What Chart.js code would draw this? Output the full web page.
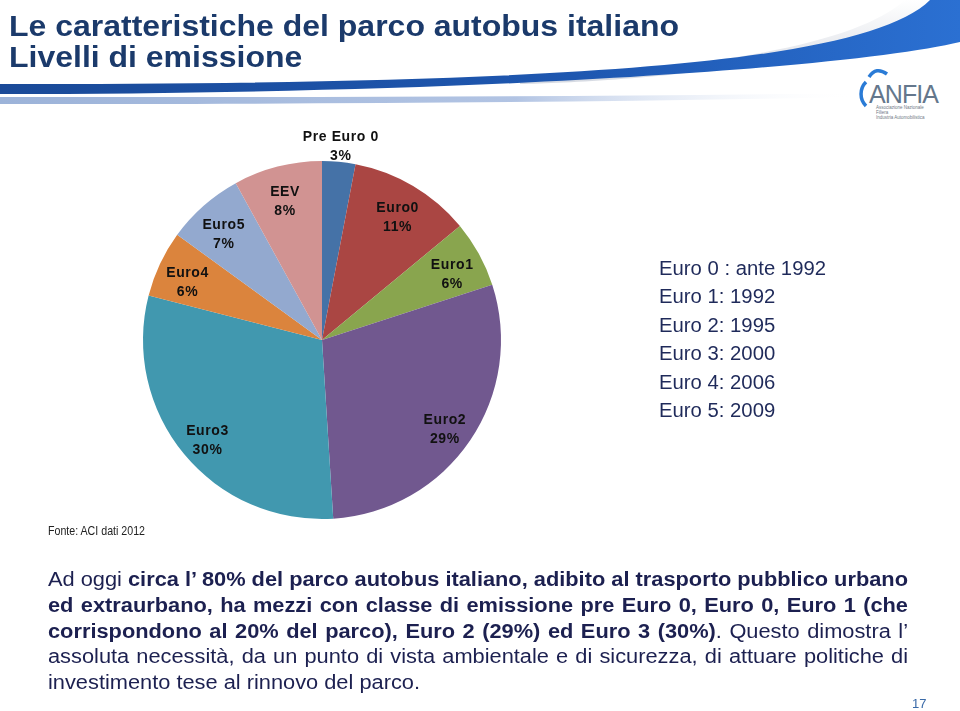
<!DOCTYPE html>
<html lang="it">
<head>
<meta charset="utf-8">
<title>Livelli di emissione</title>
<script src="https://cdn.jsdelivr.net/npm/chart.js@4.4.1/dist/chart.umd.min.js"></script>
<style>
  html, body { margin: 0; padding: 0; background: #fff; }
  body { width: 960px; height: 711px; position: relative; overflow: hidden;
         font-family: "Liberation Sans", Arial, sans-serif; }
  #hdr, #pie { position: absolute; left: 0; top: 0; }
  .abs { position: absolute; white-space: nowrap; transform-origin: 0 0; }
  #title { left: 9px; top: 11px; font-size: 29px; line-height: 30.5px; font-weight: bold; color: #1b3a6b; }
  #years { left: 659px; top: 254px; font-size: 20px; line-height: 28.4px; color: #1f2a5a; }
  #fonte { left: 48px; top: 523px; font-size: 13px; line-height: 15px; color: #222; }
  #para { left: 48px; top: 567px; font-size: 19.5px; line-height: 25.8px; color: #1c2050; }
  #para .ln { white-space: nowrap; }
  #para .j { text-align: justify; text-align-last: justify; }
  #para b { font-weight: bold; }
  #page { left: 912px; top: 696px; font-size: 13px; line-height: 15px; color: #3a6aa8; }
  .m { display: inline-block; }
</style>
</head>
<body>
<svg id="hdr" width="960" height="130">
  <defs>
    <linearGradient id="bandG" x1="0" x2="1" y1="0" y2="0">
      <stop offset="0" stop-color="#1a4a98"/>
      <stop offset="0.6" stop-color="#1e57b0"/>
      <stop offset="1" stop-color="#2b70d2"/>
    </linearGradient>
    <linearGradient id="paleG" x1="0" x2="1" y1="0" y2="0">
      <stop offset="0" stop-color="#9cb3d9"/>
      <stop offset="0.6" stop-color="#a9bde0" stop-opacity="0.9"/>
      <stop offset="1" stop-color="#ffffff" stop-opacity="0"/>
    </linearGradient>
    <linearGradient id="shadeG" x1="0" x2="0" y1="0" y2="1">
      <stop offset="0" stop-color="#ffffff"/>
      <stop offset="1" stop-color="#d6dae2"/>
    </linearGradient>
  </defs>
  <path d="M520,78 C740,66 860,40 905,0 L930,0 C860,70 600,82 520,84 Z" fill="url(#shadeG)"/>
  <path d="M0,84 C500,84 860,70 930,0 L960,0 L960,42 C860,66 500,94 0,94 Z" fill="url(#bandG)"/>
  <path d="M0,97 C300,97 560,97 860,93 L860,97 C560,103 300,104 0,104 Z" fill="url(#paleG)"/>
  <path d="M866,82 A17,17 0 0 0 866,106" stroke="#2a7bd6" stroke-width="3.5" fill="none"/>
  <path d="M869,77 Q876,66 887,74" stroke="#2a7bd6" stroke-width="3.5" fill="none"/>
  <text x="869" y="103" font-size="25" fill="#64778c" font-family="Liberation Sans, Arial" textLength="70">ANFIA</text>
  <text x="876" y="109" font-size="4.5" fill="#6f7a86" font-family="Liberation Sans, Arial">Associazione Nazionale</text>
  <text x="876" y="114" font-size="4.5" fill="#6f7a86" font-family="Liberation Sans, Arial">Filiera</text>
  <text x="876" y="119" font-size="4.5" fill="#6f7a86" font-family="Liberation Sans, Arial">Industria Automobilistica</text>
</svg>

<canvas id="pie" width="960" height="711"></canvas>

<div id="title" class="abs"><span class="m" id="t1">Le caratteristiche del parco autobus italiano</span><br><span>Livelli di emissione</span></div>

<div id="years" class="abs"></div>

<div id="fonte" class="abs">Fonte: ACI dati 2012</div>

<div id="para" class="abs">
  <div class="ln j"><span class="m">Ad oggi <b>circa l’ 80% del parco autobus italiano, adibito al trasporto pubblico urbano</b></span></div>
  <div class="ln j"><span class="m"><b>ed extraurbano, ha mezzi con classe di emissione pre Euro 0, Euro 0, Euro 1 (che</b></span></div>
  <div class="ln j"><span class="m"><b>corrispondono al 20% del parco), Euro 2 (29%) ed Euro 3 (30%)</b>. Questo dimostra l’</span></div>
  <div class="ln j"><span class="m">assoluta necessità, da un punto di vista ambientale e di sicurezza, di attuare politiche di</span></div>
  <div class="ln"><span class="m">investimento tese al rinnovo del parco.</span></div>
</div>

<div id="page" class="abs">17</div>

<script>
const categories = ["Pre Euro 0", "Euro0", "Euro1", "Euro2", "Euro3", "Euro4", "Euro5", "EEV"];
const shares = [3, 11, 6, 29, 30, 6, 7, 8];
const sliceColors = ["#4572a7", "#aa4643", "#89a54e", "#71588f", "#4198af", "#db843d", "#93a9cf", "#d19392"];
const yearNotes = ["Euro 0 : ante 1992", "Euro 1: 1992", "Euro 2: 1995", "Euro 3: 2000", "Euro 4: 2006", "Euro 5: 2009"];

document.getElementById("years").innerHTML =
  yearNotes.map((t, i) => `<span class="m"${i === 0 ? ' id="y1"' : ""}>${t}</span>`).join("<br>");

// stretch / squeeze text blocks to the widths measured on the slide
function fitTo(block, ref, width) {
  const s = width / ref.getBoundingClientRect().width;
  block.style.transform = `scaleX(${s})`;
}
fitTo(document.getElementById("title"), document.getElementById("t1"), 670);
fitTo(document.getElementById("years"), document.getElementById("y1"), 167);
fitTo(document.getElementById("fonte"), document.getElementById("fonte"), 97);

// paragraph: justified lines of 860px
const para = document.getElementById("para");
const spans = [...para.querySelectorAll(".j .m")];
const s = Math.min(...spans.map((sp) => 860 / sp.getBoundingClientRect().width));
para.style.width = 860 / s + "px";
para.querySelectorAll(".m").forEach((sp) => (sp.style.display = "inline"));
para.style.transform = `scaleX(${s})`;

// slice labels, Excel "best fit" style
const sliceLabels = {
  id: "sliceLabels",
  afterDatasetsDraw(chart) {
    const { ctx } = chart;
    const total = shares.reduce((a, b) => a + b, 0);
    ctx.save();
    ctx.font = 'bold 14px "Liberation Sans", Arial, sans-serif';
    ctx.letterSpacing = "0.6px";
    ctx.fillStyle = "#111";
    ctx.textAlign = "center";
    ctx.textBaseline = "middle";
    chart.getDatasetMeta(0).data.forEach((arc, i) => {
      const { x, y, startAngle, endAngle, outerRadius } = arc.getProps(
        ["x", "y", "startAngle", "endAngle", "outerRadius"], true);
      const mid = (startAngle + endAngle) / 2;
      const d = shares[i] / total < 0.05 ? outerRadius + 21 : outerRadius * 0.83;
      const cx = x + Math.cos(mid) * d;
      const cy = y + Math.sin(mid) * d + 6;
      ctx.fillText(categories[i], cx, cy - 9.5);
      ctx.fillText(shares[i] + "%", cx, cy + 9.5);
    });
    ctx.restore();
  },
};

new Chart(document.getElementById("pie"), {
  type: "pie",
  data: {
    labels: categories,
    datasets: [
      {
        data: shares,
        backgroundColor: sliceColors,
        borderWidth: 0,
      },
    ],
  },
  options: {
    responsive: false,
    animation: false,
    layout: { padding: { left: 143, right: 459, top: 161, bottom: 192 } },
    plugins: {
      legend: { display: false },
      tooltip: { enabled: false },
    },
  },
  plugins: [sliceLabels],
});
</script>
</body>
</html>
